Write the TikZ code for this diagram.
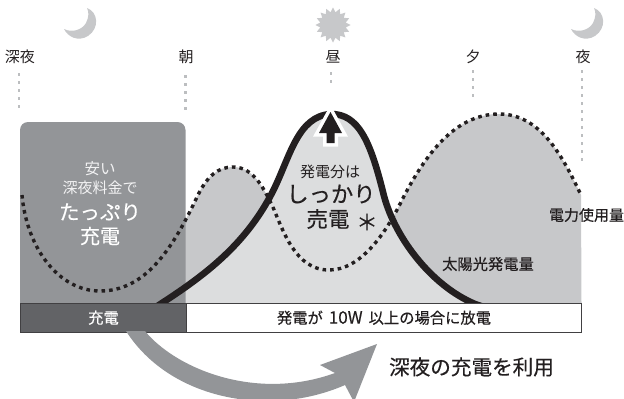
\documentclass[tikz,border=0pt]{standalone}
\usepackage{fontspec}
\setmainfont{Noto Sans CJK JP}
\newfontfamily\mediumfont[FakeBold=0.35]{Noto Sans CJK JP}
\usepackage{xcolor}
\usetikzlibrary{shapes.geometric,positioning}
\definecolor{darkbox}{HTML}{939598}
\definecolor{loadgray}{HTML}{C7C8CA}
\definecolor{solargray}{HTML}{DCDDDE}
\definecolor{bardark}{HTML}{626366}
\definecolor{inkgray}{HTML}{231F20}
\definecolor{barline}{HTML}{414042}
\definecolor{tickgray}{HTML}{BCBEC0}
\newcommand{\loadcurve}{(22,195) .. controls (27,250) and (60,291) .. (100,291) .. controls (145,291) and (172,250) .. (197,197) .. controls (207,176) and (218,167) .. (233,167) .. controls (255,167) and (265,192) .. (272,205) .. controls (283,230) and (295,270) .. (329,270) .. controls (360,270) and (385,235) .. (402,200) .. controls (425,155) and (455,114) .. (499,114) .. controls (540,114) and (562,155) .. (581,195)}
\newcommand{\solarcurve}{(150,311) -- (162,303) .. controls (205,275) and (245,245) .. (272,193) .. controls (290,158) and (297,116) .. (331,114) .. controls (358,114) and (370,140) .. (383,192) .. controls (393,235) and (430,285) .. (475,304) -- (490,309)}
\tikzset{
  moonicon/.pic={\fill[loadgray] (87,8) .. controls (98,12) and (100,28) .. (88,36) .. controls (78,42) and (68,37) .. (64,29) .. controls (72,33) and (82,30) .. (86,23) .. controls (89,17) and (89,12) .. (87,8) -- cycle;},
  timelabel/.style={font=\fontsize{15}{15}\selectfont,text=inkgray,inner sep=0pt},
  tickline/.style={draw=tickgray,line width=2.6pt,dash pattern=on 2.6pt off 5.4pt},
  barbox/.style={draw=barline,line width=1pt,anchor=north west,minimum height=28.5pt,inner sep=0pt,font=\mediumfont\fontsize{15.3}{15.3}\selectfont},
  loadline/.style={draw=inkgray,line width=3.4pt,dash pattern=on 3.6pt off 4pt},
  solarline/.style={draw=inkgray,line width=6.6pt}
}
\begin{document}
\begin{tikzpicture}[x=1pt,y=-1pt]
\clip (0,0) rectangle (624,399);

\begin{scope}
\clip (185,0) rectangle (581.5,303);
\fill[loadgray] \loadcurve -- (581.5,303) -- (185,303) -- cycle;
\end{scope}
\fill[solargray] \solarcurve -- cycle;
\fill[darkbox] (20,303) [rounded corners=8pt] -- (20,122) -- (185.5,122) [sharp corners] -- (185.5,303) -- cycle;
\draw[loadline] \loadcurve;
\draw[solarline] \solarcurve;

\node[barbox,fill=bardark,text=white,minimum width=166pt] (chargebar) at (20,303) {充電};
\node[barbox,fill=white,text=inkgray,minimum width=395pt] (dischargebar) at (186,303) {発電が\hspace{6pt}{\fontsize{17}{17}\selectfont 10W}\hspace{6pt}以上の場合に放電};

\fill[darkbox] (145,331) .. controls (175,368) and (255,402) .. (335,373) -- (320,365) -- (377,344) -- (354,402) -- (345,385) .. controls (270,418) and (170,400) .. (126,331) -- cycle;

\fill[inkgray,preaction={draw=white,line width=7pt}] (330.5,112) -- (342,133) -- (334.5,133) -- (334.5,143) -- (326.5,143) -- (326.5,133) -- (319,133) -- cycle;

\pic at (0,0) {moonicon};
\pic at (507,0) {moonicon};
\node[star,star points=16,star point ratio=1.35,minimum size=35pt,inner sep=0pt,fill=loadgray] (sunicon) at (333,25) {};

\node[timelabel] (labelA) at (20,57) {深夜};
\node[timelabel] (labelB) at (186,57) {朝};
\node[timelabel] (labelC) at (333,57) {昼};
\node[timelabel] (labelD) at (473,57) {夕};
\node[timelabel] (labelE) at (583,57) {夜};
\coordinate (tickA) at (19,109);
\coordinate (tickB) at (185.5,111);
\coordinate (tickC) at (331,86);
\coordinate (tickD) at (473,99);
\coordinate (tickE) at (582,164);
\draw[tickline] (19,73) -- (tickA);
\draw[tickline] (185.5,75) -- (tickB);
\draw[tickline] (331,72) -- (tickC);
\draw[tickline] (473,70) -- (tickD);
\draw[tickline] (582,70) -- (tickE);

\node[text=white!88!darkbox,inner sep=0pt,font=\fontsize{15.5}{15.5}\selectfont] (cheapA) at (100,169) {安い};
\node[text=white!88!darkbox,inner sep=0pt,font=\fontsize{15}{15}\selectfont] (cheapB) at (100,188) {深夜料金で};
\node[text=white,inner sep=0pt,font=\mediumfont\fontsize{20.5}{20.5}\selectfont] (cheapC) at (100,212) {たっぷり};
\node[text=white,inner sep=0pt,font=\mediumfont\fontsize{20}{20}\selectfont] (cheapD) at (100,236) {充電};

\node[text=inkgray,inner sep=0pt,font=\fontsize{15}{15}\selectfont] (sellA) at (330,172) {発電分は};
\node[text=inkgray,inner sep=0pt,font=\mediumfont\fontsize{22.3}{22.3}\selectfont] (sellB) at (331,194) {しっかり};
\node[text=inkgray,inner sep=0pt,font=\mediumfont\fontsize{21.5}{21.5}\selectfont] (sellC) at (328,219) {売電};
\node[text=inkgray,inner sep=0pt,font=\mediumfont\fontsize{21.5}{21.5}\selectfont] (sellD) at (367,222) {＊};

\node[text=inkgray,inner sep=0pt,font=\mediumfont\fontsize{15.3}{15.3}\selectfont] (solarlabel) at (488,264) {太陽光発電量};
\node[text=inkgray,inner sep=0pt,font=\mediumfont\fontsize{15}{15}\selectfont] (loadlabel) at (586.5,215) {電力使用量};
\node[text=inkgray,inner sep=0pt,font=\mediumfont\fontsize{20.6}{20.6}\selectfont] (nightlabel) at (471.5,367) {深夜の充電を利用};
\end{tikzpicture}
\end{document}
